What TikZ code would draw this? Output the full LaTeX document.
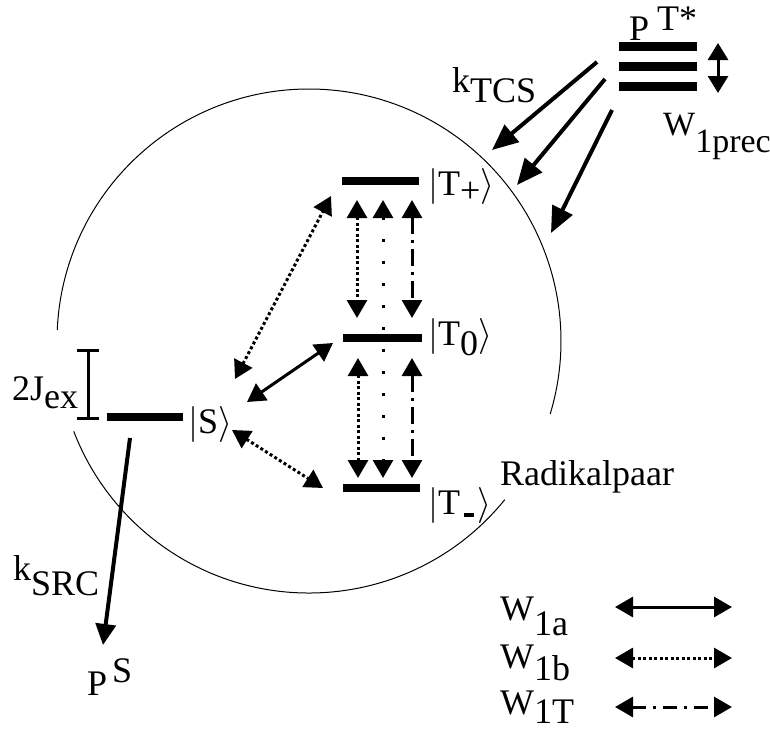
\RequirePackage{fix-cm}
\documentclass[tikz,border=0pt]{standalone}
\usepackage{fontspec}
\setmainfont{Liberation Serif}
\usetikzlibrary{arrows.meta}
\newcommand{\dn}[2]{\raisebox{-#1}{#2}}
\begin{document}
\begin{tikzpicture}[x=1pt,y=-1pt,
  lbl/.style={inner sep=0pt,anchor=base west,font=\fontsize{36}{40}\selectfont},
  bar/.style={rectangle,fill=black,draw=none,inner sep=0pt,minimum height=8pt},
  hd/.style={line width=3pt,arrows={Triangle[length=18pt,width=20pt]-Triangle[length=18pt,width=20pt]}},
  onehd/.style={line width=4pt,arrows={-Triangle[length=26pt,width=22pt]}},
  srchd/.style={line width=4pt,arrows={-Triangle[length=21pt,width=20pt]}},
  prechd/.style={line width=3pt,arrows={Triangle[length=17pt,width=20pt]-Triangle[length=17pt,width=20pt]}},
  dense/.style={dash pattern=on 3pt off 2.5pt},
  sparse/.style={dash pattern=on 3pt off 19pt},
  dashdot/.style={dash pattern=on 17pt off 6pt on 3pt off 6pt},
  ring/.style={line width=1pt}]
\useasboundingbox (0,0) rectangle (770,731);

% radical pair circle (with gaps for labels)
\coordinate (cc) at (309,341);
\draw[ring] (cc) ++(39:252) arc[start angle=39,end angle=159,radius=252];
\draw[ring] (cc) ++(182.5:252) arc[start angle=182.5,end angle=376.8,radius=252];

% labels
\node[lbl,font=\fontsize{36}{40}\selectfont] (lPT) at (629,40) {P\hspace{8pt}\raisebox{10pt}{T*}};
\node[lbl] (lTp) at (428,195) {$|$T\dn{7pt}{+}$\rangle$};
\node[lbl] (lT0) at (428,345) {$|$T\dn{10pt}{0}$\rangle$};
\node[lbl] (lTm) at (428,514) {$|$T\hspace{4pt}\rule[-3pt]{10pt}{4pt}\hspace{3pt}$\rangle$};
\node[lbl] (lS) at (188,433) {$|$S$\rangle$};
\node[lbl] (lRP) at (500,485) {Radikalpaar};
\node[lbl] (lW1a) at (500,620) {W\dn{15pt}{1a}};
\node[lbl] (lW1b) at (500,668) {W\dn{12pt}{1b}};
\node[lbl] (lW1T) at (500,714) {W\dn{9pt}{1T}};
\node[lbl,font=\fontsize{34}{38}\selectfont] (lprec) at (663,135) {W\dn{17pt}{1prec}};
\node[lbl] (lTCS) at (452,92) {k\dn{10pt}{TCS}};
\node[lbl] (lSRC) at (13,580) {k\dn{15pt}{SRC}};
\node[lbl] (lJ) at (12,400) {2J\dn{8pt}{ex}};
\node[lbl] (lPS) at (87,695) {P\hspace{5pt}\raisebox{13pt}{S}};

% energy levels
\node[bar,minimum width=78pt,minimum height=9pt] (P1) at (658,46) {};
\node[bar,minimum width=78pt,minimum height=9pt] (P2) at (658,66) {};
\node[bar,minimum width=78pt,minimum height=9pt] (P3) at (658,86) {};
\node[bar,minimum width=77pt] (Tp) at (380.5,181) {};
\node[bar,minimum width=79pt] (T0) at (382.5,338) {};
\node[bar,minimum width=77pt] (Tm) at (381.5,488) {};
\node[bar,minimum width=76pt] (S) at (145,417) {};

% exchange splitting bracket
\coordinate (jt) at (88,350);
\coordinate (jb) at (88,418);
\draw[line width=3pt] (jt) -- (jb);
\draw[line width=3pt] ([xshift=-11pt]jt) -- ([xshift=11pt]jt);
\draw[line width=3pt] ([xshift=-11pt]jb) -- ([xshift=11pt]jb);

% arrow end points
\coordinate (a1) at (357,200); \coordinate (a2) at (357,318);
\coordinate (a3) at (358,358); \coordinate (a4) at (358,478);
\coordinate (b1) at (383,200); \coordinate (b2) at (383,478);
\coordinate (c1) at (412,200); \coordinate (c2) at (412,318);
\coordinate (c3) at (412,358); \coordinate (c4) at (412,478);
\coordinate (sTp) at (235,379); \coordinate (tTp) at (331,196);
\coordinate (sT0) at (247,402); \coordinate (tT0) at (333,343);
\coordinate (sTm) at (232,430); \coordinate (tTm) at (323,488);
\coordinate (src0) at (130,438); \coordinate (src1) at (103,645);
\coordinate (k1s) at (597,62);  \coordinate (k1e) at (492,150);
\coordinate (k2s) at (605,79);  \coordinate (k2e) at (517,185);
\coordinate (k3s) at (612,110); \coordinate (k3e) at (551,233);
\coordinate (pr1) at (718,43);  \coordinate (pr2) at (718,93);
\coordinate (g1a) at (615,607); \coordinate (g1b) at (732,607);
\coordinate (g2a) at (615,658); \coordinate (g2b) at (732,658);
\coordinate (g3a) at (615,707); \coordinate (g3b) at (732,707);

% triplet transitions
\draw[hd,dense] (a1) -- (a2);
\draw[hd,dense] (a3) -- (a4);
\draw[hd,sparse] (b1) -- (b2);
\draw[hd,dashdot] (c1) -- (c2);
\draw[hd,dashdot] (c3) -- (c4);

% singlet-triplet transitions
\draw[hd,dense] (sTp) -- (tTp);
\draw[hd] (sT0) -- (tT0);
\draw[hd,dense] (sTm) -- (tTm);

% recombination and triplet precursor
\draw[srchd] (src0) -- (src1);
\draw[onehd] (k1s) -- (k1e);
\draw[onehd] (k2s) -- (k2e);
\draw[onehd] (k3s) -- (k3e);
\draw[prechd] (pr1) -- (pr2);

% legend
\draw[hd] (g1a) -- (g1b);
\draw[hd,dense] (g2a) -- (g2b);
\draw[hd,dashdot,dash pattern=on 14pt off 7pt on 3pt off 7pt] (g3a) -- (g3b);
\end{tikzpicture}
\end{document}
